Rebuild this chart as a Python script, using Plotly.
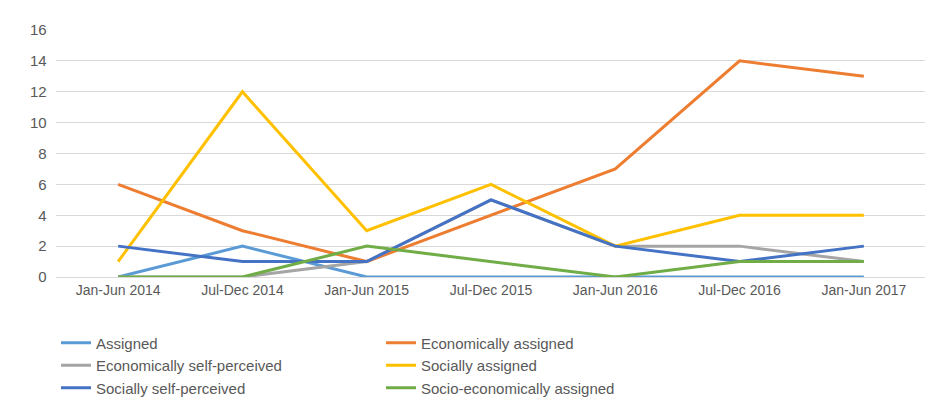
import plotly.graph_objects as go

periods = ["Jan-Jun 2014","Jul-Dec 2014","Jan-Jun 2015","Jul-Dec 2015","Jan-Jun 2016","Jul-Dec 2016","Jan-Jun 2017"]
assigned = [0,2,0,0,0,0,0]
econ_assigned = [6,3,1,4,7,14,13]
econ_self = [0,0,1,5,2,2,1]
soc_assigned = [1,12,3,6,2,4,4]
soc_self = [2,1,1,5,2,1,2]
socio_econ = [0,0,2,1,0,1,1]

series = [("Assigned",assigned,"#5B9BD5"),
          ("Economically assigned",econ_assigned,"#ED7D31"),
          ("Economically self-perceived",econ_self,"#A5A5A5"),
          ("Socially assigned",soc_assigned,"#FFC000"),
          ("Socially self-perceived",soc_self,"#4472C4"),
          ("Socio-economically assigned",socio_econ,"#70AD47")]

fig = go.Figure()
for name, vals, col in series:
    fig.add_trace(go.Scatter(x=periods, y=vals, name=name, mode="lines",
                             line=dict(color=col, width=3)))

fig.update_layout(
    width=933, height=409, plot_bgcolor="white", paper_bgcolor="white",
    margin=dict(l=48, r=15, t=22, b=128),
    font=dict(family="Liberation Sans, Arial", size=14, color="#595959"),
    xaxis=dict(showgrid=False, showline=True, linecolor="#D9D9D9", ticks="", range=[-0.5,6.5]),
    yaxis=dict(range=[0,16], dtick=2, gridcolor="#D9D9D9", zeroline=False, ticks="", ticksuffix="  ",
               tickfont=dict(size=15)),
    legend=dict(orientation="h", x=0.0, xanchor="left", y=-0.2, yanchor="top",
                entrywidth=280, tracegroupgap=0, font=dict(size=15)),
)
fig.write_html("out.html")
